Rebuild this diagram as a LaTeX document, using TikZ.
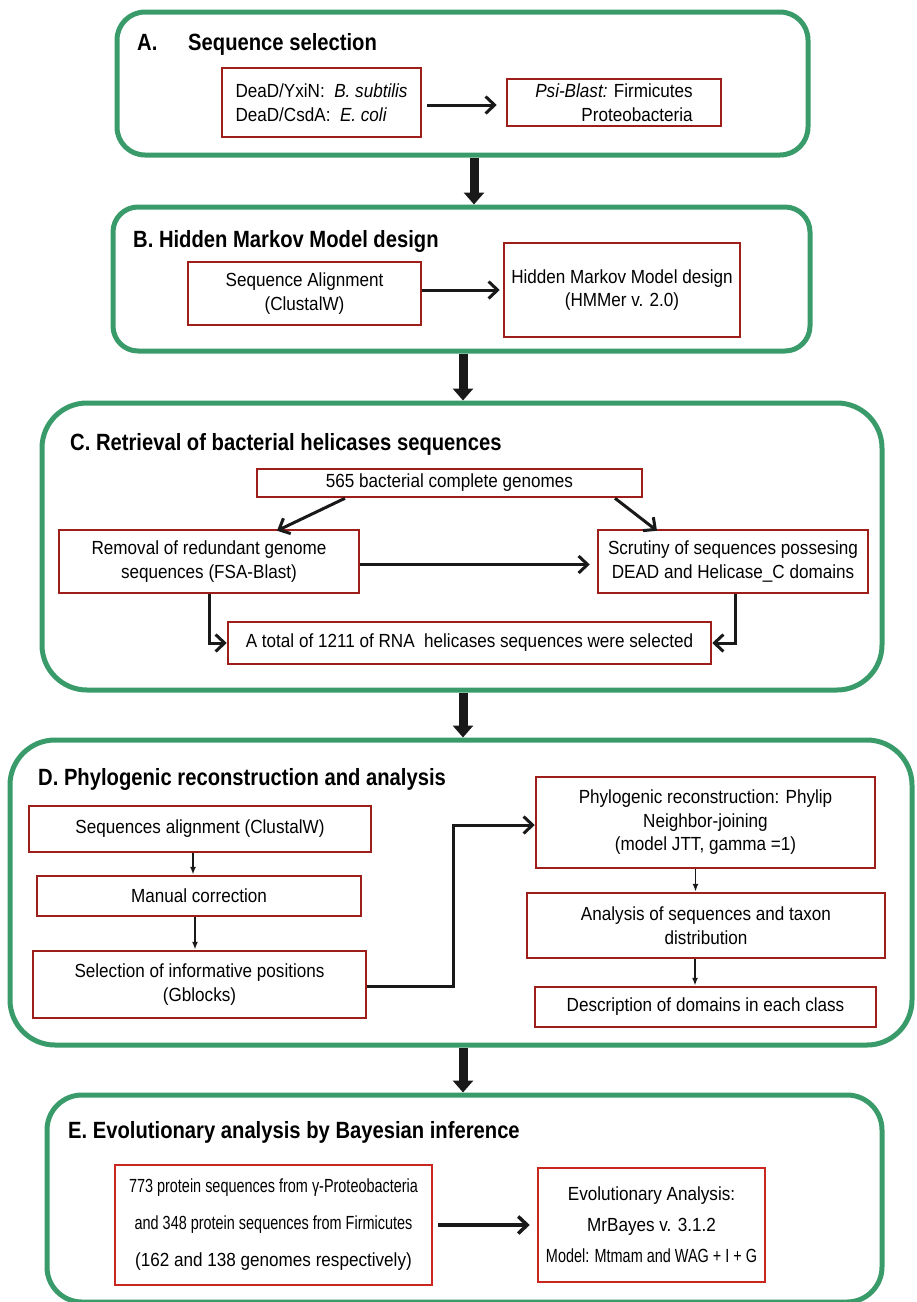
\documentclass[tikz,border=0pt]{standalone}
\usepackage{fontspec}
\setmainfont{Liberation Sans}
\newfontfamily\bfam[FakeStretch=0.9]{Liberation Sans}
\newfontfamily\nfam[FakeStretch=0.76]{Liberation Sans}
\newfontfamily\tfam[FakeStretch=0.86]{Liberation Sans}
\usetikzlibrary{arrows.meta}
\definecolor{grn}{RGB}{58,155,106}
\definecolor{dred}{RGB}{158,30,26}
\definecolor{bred}{RGB}{200,40,32}
\definecolor{arr}{RGB}{25,25,25}
\tikzset{
  stage/.style={draw=grn, line width=5pt, rounded corners=#1, inner sep=0pt},
  rbox/.style={draw=dred, line width=2.5pt, inner sep=2pt, align=center,
    font=\bfam\fontsize{19}{23.5}\selectfont},
  ttl/.style={anchor=base west, inner sep=0pt, font=\tfam\bfseries\fontsize{23.5}{27}\selectfont},
  conn/.style={draw=arr, line width=3pt, -{Straight Barb[length=9pt,width=17pt]}},
  small/.style={draw=arr, line width=1.8pt, -{Latex[length=8pt,width=6pt]}},
  bigarr/.style={draw=arr, line width=9pt, -{Triangle[length=12pt,width=20pt]}}
}
\begin{document}
\begin{tikzpicture}[x=1pt,y=-1pt]
\useasboundingbox (0,0) rectangle (917,1302);

% ---------- stage containers ----------
\node[stage=28, minimum width=691, minimum height=143] (A) at (462.5,83.5) {};
\node[stage=25, minimum width=697, minimum height=144] (B) at (461.5,279) {};
\node[stage=45, minimum width=840, minimum height=287] (C) at (462,546.5) {};
\node[stage=45, minimum width=902, minimum height=305] (D) at (461,892.5) {};
\node[stage=35, minimum width=835, minimum height=207] (E) at (464.5,1198.5) {};

% ---------- titles ----------
\node[ttl] (tA) at (137,50) {\makebox[51pt][l]{A.}Sequence selection};
\node[ttl] (tB) at (133,247) {B. Hidden Markov Model design};
\node[ttl] (tC) at (70,450) {C. Retrieval of bacterial helicases sequences};
\node[ttl] (tD) at (38,785) {D. Phylogenic reconstruction and analysis};
\node[ttl] (tE) at (68,1138) {E. Evolutionary analysis by Bayesian inference};

% ---------- A ----------
\node[rbox, align=left, minimum width=199, minimum height=69] (a1) at (321.5,102.5)
  {DeaD/YxiN:\ \ \textit{B. subtilis}\\DeaD/CsdA:\ \ \textit{E. coli}};
\node[rbox, align=right, minimum width=214, minimum height=47] (a2) at (614,102.5)
  {\textit{Psi-Blast:} Firmicutes\\Proteobacteria};
\draw[conn, shorten <=5pt, shorten >=9pt] ([yshift=-2.5pt]a1.east) -- ([yshift=-2.5pt]a2.west);

% ---------- B ----------
\node[rbox, minimum width=233, minimum height=63] (b1) at (304.5,293.5)
  {Sequence Alignment\\(ClustalW)};
\node[rbox, minimum width=236, minimum height=94] (b2) at (622,290)
  {Hidden Markov Model design\\(HMMer v. 2.0)};
\draw[conn, shorten >=3pt] (b1.east |- b2.west) -- (b2.west);

% ---------- C ----------
\node[rbox, minimum width=385, minimum height=28, inner sep=0pt] (c0) at (449.5,483)
  {565 bacterial complete genomes};
\node[rbox, minimum width=300, minimum height=63] (c1) at (209,561.5)
  {Removal of redundant genome\\sequences (FSA-Blast)};
\node[rbox, minimum width=270, minimum height=63] (c2) at (733,561.5)
  {Scrutiny of sequences possesing\\DEAD and Helicase\_C domains};
\node[rbox, minimum width=483, minimum height=42] (c3) at (469.5,643)
  {A total of 1211 of RNA\ \ helicases sequences were selected};
\draw[conn] ([xshift=-104.5pt]c0.south) -- ([xshift=68pt,yshift=-2pt]c1.north);
\draw[conn] ([xshift=165.5pt]c0.south) -- ([xshift=-76pt,yshift=-2pt]c2.north);
\draw[conn, shorten >=7pt] ([yshift=-3pt]c1.east) -- ([yshift=-3pt]c2.west);
\draw[conn] (c1.south) |- (c3.west);
\draw[conn] ([xshift=2pt]c2.south) |- (c3.east);

% ---------- D ----------
\node[rbox, minimum width=342, minimum height=46] (d1) at (200,829)
  {Sequences alignment (ClustalW)};
\node[rbox, minimum width=324, minimum height=40] (d2) at (199,896)
  {Manual correction};
\node[rbox, minimum width=333, minimum height=67] (d3) at (199.5,984.5)
  {Selection of informative positions\\(Gblocks)};
\node[rbox, minimum width=339, minimum height=91] (d4) at (705.5,822.5)
  {Phylogenic reconstruction: Phylip\\Neighbor-joining\\(model JTT, gamma =1)};
\node[rbox, minimum width=358, minimum height=65] (d5) at (706,925.5)
  {Analysis of sequences and taxon\\distribution};
\node[rbox, minimum width=341, minimum height=40] (d6) at (705.5,1007)
  {Description of domains in each class};
\draw[small] ([xshift=-7pt]d1.south) -- ([xshift=-7pt]d1.south |- d2.north);
\draw[small] ([xshift=-4pt]d2.south) -- ([xshift=-4pt]d2.south |- d3.north);
\draw[small] ([xshift=-10pt]d4.south) -- ([xshift=-10pt]d4.south |- d5.north);
\draw[small] ([xshift=-11pt]d5.south) -- ([xshift=-11pt]d5.south |- d6.north);
\draw[conn] ([yshift=-1.5pt]d3.east) -- ([xshift=86pt,yshift=-1.5pt]d3.east) |- ([yshift=-2.5pt]d4.west);

% ---------- E ----------
\node[rbox, draw=bred, minimum width=317, minimum height=120,
      font=\bfam\fontsize{19}{37}\selectfont] (e1) at (273.5,1225)
  {{\nfam 773 protein sequences from γ-Proteobacteria}\\
   {\nfam and 348 protein sequences from Firmicutes}\\
   (162 and 138 genomes respectively)};
\node[rbox, draw=bred, minimum width=227, minimum height=114,
      font=\bfam\fontsize{19}{31}\selectfont] (e2) at (651.5,1225)
  {Evolutionary Analysis:\\MrBayes v. 3.1.2\\{\nfam Model: Mtmam and WAG + I + G}};
\draw[conn, line width=3.5pt, shorten <=5pt, shorten >=7pt] (e1.east) -- (e2.west);

% ---------- stage arrows ----------
\draw[bigarr] ([xshift=11.5pt]A.south) -- ([xshift=11.5pt]A.south |- B.north);
\draw[bigarr] ([xshift=1.5pt]B.south) -- ([xshift=1.5pt]B.south |- C.north);
\draw[bigarr] ([xshift=1pt]C.south) -- ([xshift=1pt]C.south |- D.north);
\draw[bigarr] ([xshift=2pt]D.south) -- ([xshift=2pt]D.south |- E.north);
\end{tikzpicture}
\end{document}
